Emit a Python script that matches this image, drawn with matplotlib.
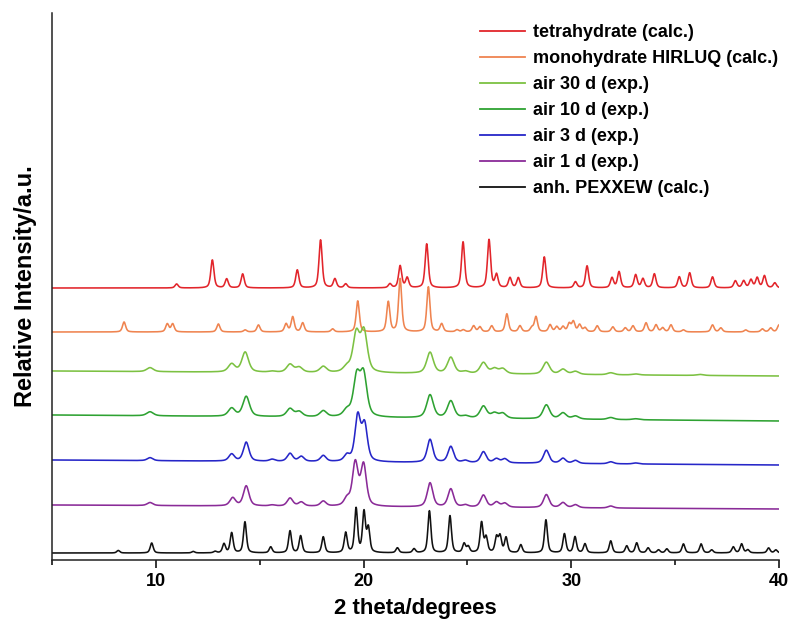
import numpy as np
import matplotlib
matplotlib.use("Agg")
import matplotlib.pyplot as plt
from matplotlib.ticker import MultipleLocator, NullLocator

plt.rcParams['font.family'] = ['Liberation Sans', 'DejaVu Sans']
plt.rcParams['font.weight'] = 'bold'

# ---- peak lists (2theta in degrees, relative height) ----
tetra_pos = [11.0, 12.72, 13.41, 14.18, 16.81, 17.93, 18.62, 19.14, 21.27, 21.76, 22.1,
             23.04, 24.79, 26.04, 26.4, 27.05, 27.45, 28.7, 30.2, 30.76, 31.96, 32.3,
             33.1, 33.45, 34.0, 35.2, 35.7, 36.8, 37.9, 38.3, 38.65, 38.95, 39.3, 39.8]
tetra_h = [4, 28, 9, 14, 18, 48, 9, 4, 4, 22, 10,
           44, 46, 48, 13, 10, 10, 31, 6, 22, 10, 16,
           13, 9, 14, 11, 15, 11, 7, 7, 8, 10, 12, 5]

mono_pos = [8.47, 10.55, 10.81, 13.01, 14.3, 14.94, 16.27, 16.59, 17.07, 18.51, 19.72,
            21.19, 21.76, 23.12, 23.76, 24.5, 24.8, 25.3, 25.6, 26.17, 26.9, 27.53,
            28.1, 28.3, 28.98, 29.3, 29.6, 29.9, 30.1, 30.4, 30.66, 31.25, 32.0, 32.6,
            32.97, 33.6, 34.08, 34.4, 34.8, 35.4, 36.8, 37.2, 38.4, 39.2, 39.6, 40.0]
mono_h = [10, 8, 8, 8, 2, 7, 8, 15, 9, 3, 31,
          30, 53, 45, 8, 2, 2, 6, 5, 6, 18, 6,
          4, 15, 7, 5, 5, 8, 10, 7, 4, 6, 5, 4,
          6, 9, 7, 4, 7, 2, 7, 4, 2, 3, 4, 7]

air30_pos = [9.72, 13.65, 14.3, 15.6, 16.46, 16.9, 18.06, 19.19, 19.65, 20.02, 23.2,
             24.2, 24.9, 25.77, 26.3, 26.7, 28.8, 29.6, 30.2, 31.9, 33.1, 36.2]
air30_h = [4, 8, 20, 1, 8, 5, 6, 5, 38, 40, 21,
           16, 2, 11, 5, 5, 12, 5, 3, 2, 1, 1]

air10_pos = [9.72, 13.65, 14.35, 16.46, 16.9, 18.06, 19.19, 19.67, 20.0, 23.2,
             24.2, 24.9, 25.77, 26.3, 26.7, 28.8, 29.6, 30.2, 31.9, 33.1]
air10_h = [4, 8, 20, 8, 5, 6, 6, 39, 41, 23,
           17, 2, 12, 5, 5, 14, 6, 3, 2, 1]

air3_pos = [9.72, 13.65, 14.35, 15.6, 16.46, 17.0, 18.06, 19.2, 19.72, 20.05, 23.2,
            24.2, 24.9, 25.77, 26.4, 26.8, 28.8, 29.6, 30.2, 31.9, 33.1]
air3_h = [3, 7, 19, 2, 8, 5, 6, 6, 45, 36, 23,
          16, 2, 11, 4, 4, 13, 5, 3, 2, 1]

air1_pos = [9.72, 13.7, 14.35, 15.6, 16.46, 17.0, 18.06, 19.2, 19.6, 20.0, 23.2,
            24.2, 24.9, 25.77, 26.4, 26.8, 28.8, 29.6, 30.2, 31.9]
air1_h = [3, 8, 20, 1, 8, 4, 5, 7, 43, 41, 24,
          18, 2, 12, 5, 4, 13, 5, 3, 2]

anh_pos = [8.19, 9.8, 11.8, 12.85, 13.28, 13.65, 14.29, 15.53, 16.46, 16.97, 18.06,
           19.14, 19.64, 20.02, 20.23, 21.63, 22.43, 23.17, 24.16, 24.84, 25.04, 25.68,
           25.9, 26.4, 26.57, 26.86, 27.57, 28.78, 29.67, 30.18, 30.66, 31.9, 32.67,
           33.15, 33.7, 34.2, 34.6, 35.4, 36.25, 36.76, 37.8, 38.2, 38.5, 39.5, 39.85]
anh_h = [2.5, 10, 1.5, 1.5, 9, 20, 31, 6, 22, 17, 16,
         20, 44, 40, 24, 5, 4, 42, 37, 9, 6, 30,
         15, 15, 16, 15, 8, 33, 19, 16, 9, 12, 7,
         10, 5, 3, 4, 9, 9, 3, 6, 9, 3, 5, 3]

# vertical offsets of each pattern at 5 deg and 40 deg
base_left = [272, 228, 189, 145, 100, 55, 7]
base_right = [272, 228, 184, 139, 95, 51, 7]

labels = ["tetrahydrate (calc.)", "monohydrate HIRLUQ (calc.)", "air 30 d (exp.)",
          "air 10 d (exp.)", "air 3 d (exp.)", "air 1 d (exp.)", "anh. PEXXEW (calc.)"]
colors = ["#e2252b", "#ef8450", "#7cc142", "#2ea232", "#2626c8", "#8a2b98", "#111111"]
fwhm = [0.18, 0.18, 0.38, 0.38, 0.32, 0.32, 0.17]

peaks = [(tetra_pos, tetra_h), (mono_pos, mono_h), (air30_pos, air30_h),
         (air10_pos, air10_h), (air3_pos, air3_h), (air1_pos, air1_h),
         (anh_pos, anh_h)]

x = np.linspace(5, 40, 3501)


def pattern(pos, h, w, eta=0.55):
    y = np.zeros_like(x)
    for p, a in zip(pos, h):
        d = (x - p) / w
        g = np.exp(-4 * np.log(2) * d ** 2)
        lor = 1.0 / (1.0 + 4 * d ** 2)
        y += a * (eta * lor + (1 - eta) * g)
    return y


fig = plt.figure(figsize=(7.93, 6.28), dpi=100)
ax = fig.add_axes([52 / 793, 68 / 628, 727 / 793, 547 / 628])

for (pos, h), w, c, lab, b0, b1 in zip(peaks, fwhm, colors, labels, base_left, base_right):
    base = b0 + (b1 - b0) * (x - 5) / 35
    ax.plot(x, base + pattern(pos, h, w), color=c, lw=1.15, label=lab)

ax.set_xlim(5, 40)
ax.set_ylim(0, 547)
for s in ("top", "right"):
    ax.spines[s].set_visible(False)
for s in ("left", "bottom"):
    ax.spines[s].set_linewidth(1.1)
    ax.spines[s].set_color("#222222")

ax.xaxis.set_major_locator(MultipleLocator(10))
ax.xaxis.set_minor_locator(MultipleLocator(5))
ax.tick_params(axis="x", which="major", direction="out", length=6, width=1.1,
               labelsize=13, pad=3)
ax.tick_params(axis="x", which="minor", direction="out", length=3.5, width=1.1)
ax.yaxis.set_major_locator(NullLocator())
for t in ax.get_xticklabels():
    t.set_fontweight("bold")

ax.set_xlabel("2 theta/degrees", fontsize=16, fontweight="bold", labelpad=6)
ax.set_ylabel("Relative Intensity/a.u.", fontsize=17, fontweight="bold", labelpad=11)

leg = ax.legend(loc="upper left", bbox_to_anchor=(417 / 727, 1.0), frameon=False,
                prop={"size": 13, "weight": "bold"}, handlelength=2.5,
                handletextpad=0.45, labelspacing=0.5, borderpad=0.1)
for ln in leg.get_lines():
    ln.set_linewidth(1.3)

fig.savefig("out.png", dpi=100)
